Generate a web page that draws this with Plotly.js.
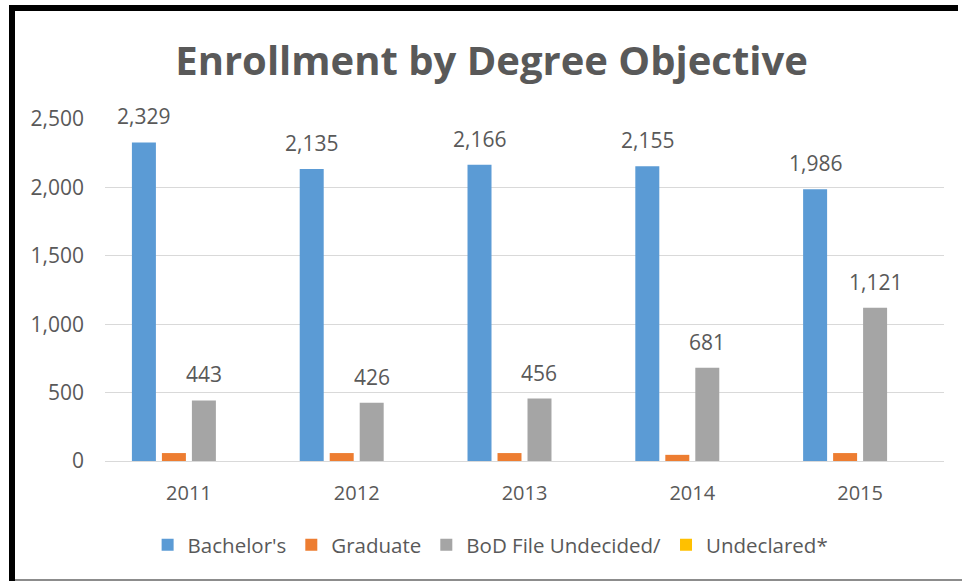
<!DOCTYPE html>
<html>
<head>
<meta charset="utf-8">
<script src="https://cdn.plot.ly/plotly-3.0.1.min.js"></script>
<style>
  html, body { margin: 0; padding: 0; background: #ffffff; }
  #wrap { position: relative; width: 962px; height: 581px; overflow: hidden; background: #fff; }
  #chart { position: absolute; left: 0; top: 0; width: 962px; height: 581px; }
  .bd { position: absolute; pointer-events: none; }
</style>
</head>
<body>
<div id="wrap">
  <div id="chart"></div>
  <div class="bd" style="left:9px; top:5px; width:949px; height:6px; background:#000;"></div>
  <div class="bd" style="left:9px; top:5px; width:6px; height:576px; background:#000;"></div>
  <div class="bd" style="left:15px; top:579px; width:947px; height:2px; background:#8c8c8c;"></div>
</div>
<script>
const years = ['2011', '2012', '2013', '2014', '2015'];
const bachelors = [2329, 2135, 2166, 2155, 1986];
const graduate = [58, 58, 58, 45, 58];
const bodUndecided = [443, 426, 456, 681, 1121];
const undeclared = [0, 0, 0, 0, 0];
const seriesNames = ["Bachelor's", 'Graduate', 'BoD File Undecided/', 'Undeclared*'];
const seriesColors = ['#5B9BD5', '#ED7D31', '#A5A5A5', '#FFC000'];
const yTicks = [0, 500, 1000, 1500, 2000, 2500];

const fontFam = '"Open Sans", "Noto Sans", sans-serif';
const textColor = '#595959';

const seriesValues = [bachelors, graduate, bodUndecided, undeclared];
const traces = seriesValues.map((vals, i) => ({
  type: 'bar',
  name: seriesNames[i],
  x: years,
  y: vals,
  marker: { color: seriesColors[i] },
  hoverinfo: 'none'
}));

const margin = { l: 105, r: 18, t: 119, b: 120 };
const plotW = 962 - margin.l - margin.r;
const bargap = 0.285;
const nSeries = seriesValues.length;
const catW = plotW / years.length;
const slotW = catW * (1 - bargap) / nSeries;

// data labels for Bachelor's (series 0) and BoD (series 2)
const labelled = [0, 2];
const annotations = [];
labelled.forEach(si => {
  const offset = (si - (nSeries - 1) / 2) * slotW;
  years.forEach((yr, k) => {
    annotations.push({
      x: k, y: seriesValues[si][k], xref: 'x', yref: 'y',
      text: seriesValues[si][k].toLocaleString('en-US'),
      showarrow: false, xanchor: 'center', yanchor: 'bottom',
      xshift: offset, yshift: 10,
      font: { family: fontFam, size: 21, color: textColor }
    });
  });
});

const layout = {
  width: 962, height: 581,
  paper_bgcolor: '#ffffff', plot_bgcolor: '#ffffff',
  margin: margin,
  title: {
    text: '<b>Enrollment by Degree Objective</b>',
    font: { family: fontFam, size: 40, color: textColor },
    x: 0.511, xanchor: 'center', xref: 'container',
    y: 0.895, yanchor: 'middle', yref: 'container'
  },
  barmode: 'group',
  bargap: bargap,
  bargroupgap: 0.2,
  showlegend: true,
  legend: {
    orientation: 'h', x: 0.51, xanchor: 'center', xref: 'container',
    y: 0.062, yanchor: 'middle', yref: 'container',
    font: { family: fontFam, size: 20.5, color: textColor },
    traceorder: 'normal', itemclick: false, itemdoubleclick: false
  },
  xaxis: {
    type: 'category',
    range: [-0.5, years.length - 0.5],
    tickfont: { family: fontFam, size: 20, color: textColor },
    showgrid: false, showline: false, zeroline: false,
    ticks: '', ticklabelstandoff: 18, fixedrange: true
  },
  yaxis: {
    range: [0, 2500],
    tickvals: yTicks,
    ticktext: yTicks.map(v => v.toLocaleString('en-US')),
    tickfont: { family: fontFam, size: 21, color: textColor },
    showgrid: true, gridcolor: '#d9d9d9', gridwidth: 1,
    zeroline: true, zerolinecolor: '#d9d9d9', zerolinewidth: 1,
    showline: false, ticks: '', ticklabelstandoff: 20, fixedrange: true
  },
  annotations: annotations
};

Plotly.newPlot('chart', traces, layout, { staticPlot: true, displayModeBar: false });
</script>
</body>
</html>
